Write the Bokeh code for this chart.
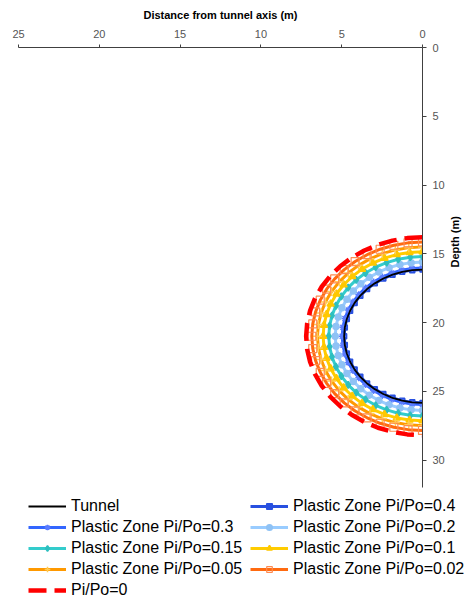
import math
import numpy as np
from bokeh.plotting import figure
from bokeh.models import Range1d, Legend, LegendItem, FixedTicker
from bokeh.embed import file_html
from bokeh.resources import INLINE

# ---- data ----
series_labels = [
    "Tunnel",
    "Plastic Zone Pi/Po=0.4",
    "Plastic Zone Pi/Po=0.3",
    "Plastic Zone Pi/Po=0.2",
    "Plastic Zone Pi/Po=0.15",
    "Plastic Zone Pi/Po=0.1",
    "Plastic Zone Pi/Po=0.05",
    "Plastic Zone Pi/Po=0.02",
    "Pi/Po=0",
]
radius_m = [4.85, 4.85, 4.97, 5.4, 5.8, 6.15, 6.5, 6.85, 7.2]   # radius of each zone (m)
center_depth_m = 21.0                                           # tunnel axis depth (m)
angle_step_deg = 7.5                                            # spacing of points along each curve
x_ticks = [0, 5, 10, 15, 20, 25]
y_ticks = [0, 5, 10, 15, 20, 25, 30]

# ---- styles ----
styles = {
    "Tunnel":                  dict(color="#000000", width=1.8, dash="solid", marker=None),
    "Plastic Zone Pi/Po=0.4":  dict(color="#2850E0", width=3.0, dash="solid", marker="square", mcolor="#2850E0", mfill="#2850E0", size=5),
    "Plastic Zone Pi/Po=0.3":  dict(color="#3366FF", width=3.0, dash="solid", marker="asterisk", mcolor="#5A7CFF", mfill="#5A7CFF", size=7),
    "Plastic Zone Pi/Po=0.2":  dict(color="#99CCFF", width=3.0, dash="solid", marker="circle", mcolor="#8FC2F5", mfill="#8FC2F5", size=6),
    "Plastic Zone Pi/Po=0.15": dict(color="#33CCCC", width=3.0, dash="solid", marker="diamond", mcolor="#2EBFBF", mfill="#2EBFBF", size=7),
    "Plastic Zone Pi/Po=0.1":  dict(color="#FFCC00", width=3.0, dash="solid", marker="triangle", mcolor="#FFC800", mfill="#FFC800", size=7),
    "Plastic Zone Pi/Po=0.05": dict(color="#FF9900", width=3.0, dash="solid", marker="cross", mcolor="#FFCC55", mfill="#FFCC55", size=9),
    "Plastic Zone Pi/Po=0.02": dict(color="#FF6A10", width=3.0, dash="solid", marker="square", mcolor="#FF8A50", mfill=None, size=8),
    "Pi/Po=0":                 dict(color="#FF0000", width=4.5, dash="18 8", marker=None),
}
draw_order = [1, 2, 3, 4, 5, 6, 7, 8, 0]

FONT = "Liberation Sans"
row_h = 14

p = figure(
    frame_width=404, frame_height=440,
    x_range=Range1d(25, 0), y_range=Range1d(32, 0),
    x_axis_location="above", y_axis_location="right",
    output_backend="svg", toolbar_location=None,
    min_border_left=18, min_border_right=0, min_border_top=47, min_border_bottom=0,
    background_fill_color="white", border_fill_color="white",
)
p.outline_line_color = None
p.xgrid.visible = False
p.ygrid.visible = False

theta = np.deg2rad(np.arange(0, 180 + angle_step_deg / 2, angle_step_deg))

renderers = {}
for i in draw_order:
    lab = series_labels[i]
    r = radius_m[i]
    st = styles[lab]
    xs = r * np.sin(theta)
    ys = center_depth_m - r * np.cos(theta)
    rl = p.line(xs, ys, line_color=st["color"], line_width=st["width"], line_dash=st["dash"])
    rs = [rl]
    if st["marker"]:
        if st["mfill"] is None:
            sc = p.scatter(xs, ys, marker=st["marker"], size=st["size"], line_color=st["mcolor"],
                           fill_color="white", fill_alpha=0.0, line_width=1.2)
        else:
            sc = p.scatter(xs, ys, marker=st["marker"], size=st["size"], line_color=st["mcolor"],
                           fill_color=st["mfill"], line_width=1.5)
        rs.append(sc)
    renderers[lab] = rs

# ---- axes ----
for ax in (p.xaxis[0], p.yaxis[0]):
    ax.minor_tick_line_color = None
    ax.major_tick_in = 0
    ax.axis_line_color = "#404040"
    ax.major_tick_line_color = "#404040"
    ax.major_label_text_font = FONT
    ax.major_label_text_font_size = "11px"
    ax.major_label_text_color = "#555555"
    ax.axis_label_text_font = FONT
    ax.axis_label_text_font_size = "11px"
    ax.axis_label_text_font_style = "bold"
    ax.axis_label_text_color = "#000000"

p.xaxis[0].ticker = FixedTicker(ticks=x_ticks)
p.yaxis[0].ticker = FixedTicker(ticks=y_ticks)
p.xaxis[0].axis_label = "Distance from tunnel axis (m)"
p.yaxis[0].axis_label = "Depth (m)"
p.xaxis[0].major_tick_out = 3
p.yaxis[0].major_tick_out = 4
p.xaxis[0].major_label_standoff = 7
p.yaxis[0].major_label_standoff = 6
p.xaxis[0].axis_label_standoff = 6
p.yaxis[0].axis_label_standoff = 7
if "axis_label_orientation" in p.yaxis[0].properties():
    p.yaxis[0].axis_label_orientation = math.pi / 2

# ---- legend ----
items = [LegendItem(label=lab, renderers=renderers[lab]) for lab in series_labels]
legend = Legend(
    items=items, orientation="horizontal", ncols=2,
    location="top_left",
    label_text_font=FONT, label_text_font_size="16px", label_text_color="#000000",
    glyph_width=38, glyph_height=row_h, label_height=row_h, label_width=176,
    label_standoff=5, spacing=3, padding=0, margin=10,
    border_line_color=None, background_fill_alpha=0.0,
)
p.add_layout(legend, "below")

open("out.html", "w").write(file_html(p, INLINE))
